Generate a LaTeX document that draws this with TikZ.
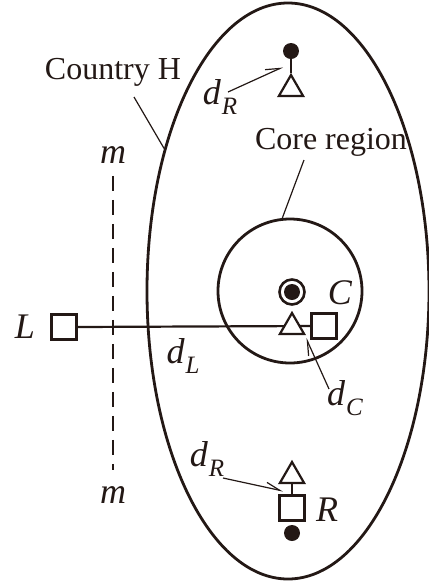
\documentclass[tikz,border=0pt]{standalone}
\usepackage{fontspec}
\setmainfont{Liberation Serif}
\usepackage{tikz}
\usepackage{xcolor}
\usetikzlibrary{arrows.meta,shapes.geometric}
\definecolor{ink}{HTML}{231815}
\newcommand{\dlab}[1]{\textit{d}\kern0.5pt\raisebox{-5pt}{\fontsize{12.5}{13}\selectfont\textit{#1}}}

\tikzset{
  box/.style={draw=ink, line width=1.3pt, minimum size=12.5pt, inner sep=0pt, fill=white},
  tri/.style={draw=ink, line width=1.1pt, regular polygon, regular polygon sides=3,
              minimum size=14pt, inner sep=0pt, fill=white},
  agentdot/.style={circle, fill=ink, minimum size=8pt, inner sep=0pt},
  lead/.style={draw=ink, line width=0.6pt},
  barb/.style={lead, -{Straight Barb[left, length=7pt, width=5pt]}},
  lab/.style={text=ink, font=\fontsize{18}{21}\selectfont\itshape, inner sep=0pt},
  txt/.style={text=ink, font=\fontsize{16}{19}\selectfont, inner sep=0pt},
}

\begin{document}
\begin{tikzpicture}[x=0.5pt,y=-0.5pt,>=Latex]
    \useasboundingbox (0,0) rectangle (429,585);
    \node[draw=ink, line width=1.4pt, ellipse, minimum width=141pt, minimum height=288pt,
          inner sep=0pt] (H) at (288,291) {};
    \node[draw=ink, line width=1.4pt, circle, minimum size=72pt, inner sep=0pt] (core) at (290,291) {};

    \node[txt] (lblH) at (113,72) {Country H};
    \coordinate (lblHend) at (134,97);
    \draw[lead] (lblHend) -- (H.131);
    \node[txt] (lblcore) at (331,142) {Core region};
    \coordinate (lblcoreend) at (304,160);
    \draw[lead] (lblcoreend) -- (core.96);

    \node[lab] (mtop) at (113,155) {m};
    \node[lab] (mbot) at (113,495) {m};
    \draw[ink, line width=1.4pt, dash pattern=on 7.5pt off 4.5pt]
        ([yshift=-6pt]mtop.south) -- ([yshift=8pt]mbot.north);

    \node[box] (L) at (64,327) {};
    \node[lab] (Ltxt) at (25,327) {L};
    \node[box] (sqC) at (324,326) {};
    \draw[ink, line width=1.1pt] (L.east) -- (sqC.west);
    \node[tri] (triC) at (292,327) {};
    \node[circle, draw=ink, line width=1.3pt, minimum size=12.5pt, inner sep=0pt] (ring) at (292,292) {};
    \node[agentdot, minimum size=8pt] (coredot) at (292,292) {};
    \node[lab] (Ctxt) at (340,293) {C};

    \node[lab] (dL) at (183,356) {\dlab{L}};
    \node[lab] (dC) at (345,398) {\dlab{C}};
    \coordinate (dCstart) at (329,389);
    \coordinate (dCtip) at (306,338);
    \draw[barb] (dCstart) -- (dCtip);

    \node[agentdot] (topdot) at (291,51) {};
    \node[tri] (toptri) at (291,89) {};
    \draw[ink, line width=1.1pt] (topdot) -- (toptri.corner 1);
    \node[lab] (dRtop) at (220,97) {\dlab{R}};
    \coordinate (dRtopstart) at (228,92);
    \coordinate (dRtoptip) at (283,67);
    \draw[barb] (dRtopstart) -- (dRtoptip);

    \node[tri] (bottri) at (292,476) {};
    \node[box] (R) at (292,508) {};
    \draw[ink, line width=1.1pt] (bottri.south) -- (R.north);
    \node[agentdot] (botdot) at (292,533) {};
    \node[lab] (Rtxt) at (327,510) {R};
    \node[lab] (dRbot) at (207,459) {\dlab{R}};
    \coordinate (dRbotstart) at (223,478);
    \coordinate (dRbottip) at (283,491);
    \draw[barb] (dRbotstart) -- (dRbottip);
\end{tikzpicture}
\end{document}
